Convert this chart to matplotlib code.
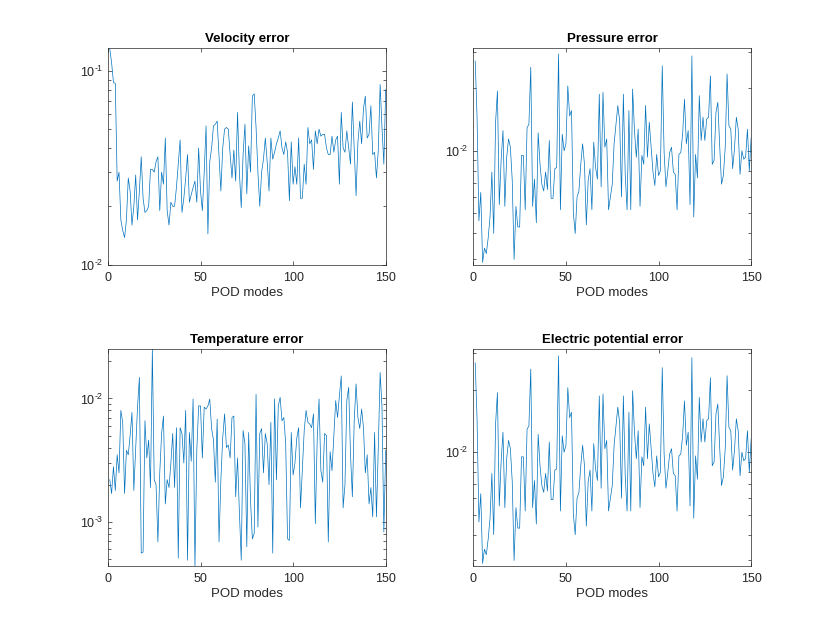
import matplotlib
matplotlib.use('Agg')
import matplotlib.pyplot as plt
from matplotlib.ticker import LogLocator, NullFormatter, FixedLocator, FuncFormatter
import math

# POD modes 1..150
modes = list(range(1, 151))

velocity_err = [
    0.13, 0.11, 0.087, 0.086, 0.027, 0.030, 0.017, 0.015, 0.0138, 0.017,
    0.028, 0.024, 0.016, 0.020, 0.029, 0.017, 0.024, 0.036, 0.022, 0.0186,
    0.019, 0.020, 0.031, 0.031, 0.030, 0.034, 0.036, 0.019, 0.030, 0.026,
    0.045, 0.019, 0.016, 0.021, 0.020, 0.020, 0.025, 0.033, 0.044, 0.0186,
    0.022, 0.028, 0.037, 0.021, 0.023, 0.025, 0.027, 0.021, 0.040, 0.024,
    0.019, 0.030, 0.052, 0.0144, 0.034, 0.040, 0.052, 0.053, 0.055, 0.036,
    0.024, 0.040, 0.050, 0.051, 0.050, 0.037, 0.028, 0.039, 0.027, 0.061,
    0.030, 0.0197, 0.037, 0.053, 0.0232, 0.041, 0.030, 0.074, 0.076, 0.051,
    0.030, 0.020, 0.030, 0.035, 0.045, 0.034, 0.024, 0.045, 0.035, 0.038,
    0.042, 0.045, 0.049, 0.040, 0.037, 0.043, 0.038, 0.0214, 0.043, 0.026,
    0.032, 0.026, 0.045, 0.022, 0.022, 0.033, 0.026, 0.051, 0.042, 0.044,
    0.031, 0.049, 0.042, 0.050, 0.046, 0.047, 0.047, 0.040, 0.037, 0.037,
    0.046, 0.038, 0.044, 0.046, 0.026, 0.061, 0.040, 0.038, 0.049, 0.040,
    0.033, 0.069, 0.040, 0.0227, 0.043, 0.055, 0.042, 0.064, 0.074, 0.045,
    0.047, 0.066, 0.037, 0.038, 0.028, 0.039, 0.085, 0.051, 0.033, 0.080,
]

pressure_err = [
    0.027, 0.0145, 0.0046, 0.0063, 0.0029, 0.0034, 0.0032, 0.0038, 0.0048, 0.0079,
    0.0040, 0.0137, 0.0194, 0.0055, 0.0090, 0.0125, 0.0054, 0.0093, 0.0114, 0.0104,
    0.0072, 0.0030, 0.0054, 0.0043, 0.0043, 0.0095, 0.0095, 0.0052, 0.0129, 0.0134,
    0.0252, 0.0054, 0.0073, 0.0045, 0.0122, 0.0086, 0.0069, 0.0064, 0.0079, 0.0065,
    0.0112, 0.0059, 0.0059, 0.0082, 0.0083, 0.0292, 0.0052, 0.0120, 0.0100, 0.0108,
    0.0205, 0.0147, 0.0156, 0.0050, 0.0040, 0.0060, 0.0064, 0.0086, 0.0108, 0.0086,
    0.0044, 0.0072, 0.0082, 0.0052, 0.0110, 0.0083, 0.0073, 0.0187, 0.0067, 0.0191,
    0.0104, 0.0114, 0.0052, 0.0060, 0.0069, 0.0108, 0.0134, 0.0165, 0.0139, 0.0060,
    0.0187, 0.0077, 0.0052, 0.0156, 0.0052, 0.0198, 0.0125, 0.0093, 0.0127, 0.0054,
    0.0095, 0.0086, 0.0165, 0.0093, 0.0137, 0.0104, 0.0079, 0.0068, 0.0096, 0.0076,
    0.0080, 0.0256, 0.0098, 0.0067, 0.0080, 0.0098, 0.0104, 0.0079, 0.0077, 0.0052,
    0.0096, 0.0098, 0.0120, 0.0177, 0.0108, 0.0125, 0.0055, 0.0286, 0.0048, 0.0096,
    0.0074, 0.0184, 0.0112, 0.0145, 0.0112, 0.0142, 0.0145, 0.0229, 0.0086, 0.0090,
    0.0153, 0.0171, 0.0106, 0.0069, 0.0076, 0.0104, 0.0234, 0.0132, 0.0127, 0.0082,
    0.0102, 0.0145, 0.0127, 0.0077, 0.0100, 0.0091, 0.0093, 0.0127, 0.0080, 0.0116,
]

temperature_err = [
    0.0022, 0.0017, 0.0028, 0.0018, 0.0035, 0.0025, 0.0080, 0.0064, 0.0017, 0.0038,
    0.0035, 0.0050, 0.0077, 0.0018, 0.0039, 0.0085, 0.0148, 0.00056, 0.00057, 0.0066,
    0.0033, 0.0046, 0.0019, 0.0250, 0.0022, 0.0020, 0.00069, 0.0025, 0.0052, 0.0072,
    0.0014, 0.0022, 0.0019, 0.0030, 0.0052, 0.0019, 0.0058, 0.00051, 0.0058, 0.0052,
    0.0030, 0.0080, 0.00049, 0.0053, 0.0031, 0.0099, 0.00043, 0.0038, 0.0087, 0.0087,
    0.0033, 0.0085, 0.0082, 0.0087, 0.0099, 0.0057, 0.0046, 0.0021, 0.0068, 0.00069,
    0.0022, 0.0048, 0.0075, 0.0040, 0.0042, 0.0033, 0.0070, 0.0072, 0.0016, 0.0033,
    0.0012, 0.00049, 0.0055, 0.0043, 0.00063, 0.0053, 0.0015, 0.00073, 0.00081, 0.0108,
    0.00091, 0.0052, 0.0057, 0.0025, 0.0052, 0.0043, 0.0020, 0.0064, 0.00056, 0.0099,
    0.0022, 0.0087, 0.0102, 0.0066, 0.0070, 0.0043, 0.00073, 0.00071, 0.0053, 0.0024,
    0.0030, 0.0048, 0.0058, 0.0013, 0.0027, 0.0055, 0.0080, 0.0064, 0.0062, 0.0058,
    0.0075, 0.00097, 0.0046, 0.0099, 0.0026, 0.0021, 0.0052, 0.0050, 0.00069, 0.0037,
    0.0026, 0.0050, 0.0096, 0.0070, 0.0105, 0.0152, 0.0013, 0.0020, 0.0096, 0.0123,
    0.0035, 0.0016, 0.0066, 0.0131, 0.0070, 0.0057, 0.0082, 0.0058, 0.0025, 0.0035,
    0.0014, 0.0019, 0.0011, 0.0053, 0.0011, 0.0040, 0.0162, 0.0085, 0.00083, 0.0038,
]

# the electric potential curve looks identical to the pressure one
electric_err = list(pressure_err)

titles = ['Velocity error', 'Pressure error', 'Temperature error', 'Electric potential error']
ylims = [(0.01, 0.1315), (0.00283, 0.0313), (0.00044, 0.0251), (0.00282, 0.0315)]
series = [velocity_err, pressure_err, temperature_err, electric_err]

plt.rcParams['font.family'] = ['Liberation Sans', 'DejaVu Sans']
plt.rcParams['mathtext.fontset'] = 'custom'
plt.rcParams['mathtext.rm'] = 'Liberation Sans'
plt.rcParams['mathtext.it'] = 'Liberation Sans'


def pow10(v, pos):
    # MATLAB writes the exponent with a plain hyphen
    e = int(round(math.log10(v)))
    sign = '\u2010' if e < 0 else ''
    return r'$10^{\mathrm{%s%d}}$' % (sign, abs(e))


fig = plt.figure(figsize=(8.3, 6.36), dpi=100)
# MATLAB default subplot positions
positions = [
    [0.13, 0.5838, 0.3347, 0.3412],
    [0.5703, 0.5838, 0.3347, 0.3412],
    [0.13, 0.11, 0.3347, 0.3412],
    [0.5703, 0.11, 0.3347, 0.3412],
]
axcol = '#262626'

for pos, y, title, yl in zip(positions, series, titles, ylims):
    ax = fig.add_axes(pos)
    ax.plot(modes, y, color='#0072BD', linewidth=0.5)
    ax.set_yscale('log')
    ax.set_xlim(0, 150)
    ax.set_ylim(*yl)
    ax.xaxis.set_major_locator(FixedLocator([0, 50, 100, 150]))
    ax.yaxis.set_major_locator(LogLocator(base=10))
    ax.yaxis.set_major_formatter(FuncFormatter(pow10))
    ax.yaxis.set_minor_locator(LogLocator(base=10, subs=range(2, 10)))
    ax.yaxis.set_minor_formatter(NullFormatter())
    ax.tick_params(which='both', direction='in', top=True, right=True,
                   colors=axcol, labelsize=9, width=0.5)
    ax.tick_params(which='major', length=3)
    ax.tick_params(which='minor', length=2)
    ax.tick_params(axis='x', pad=5)
    for s in ax.spines.values():
        s.set_color(axcol)
        s.set_linewidth(0.5)
    ax.set_title(title, fontsize=9.5, fontweight='bold', color='black', pad=4)
    ax.set_xlabel('POD modes', fontsize=9.5, color=axcol, labelpad=2.5)

fig.savefig('out.png', dpi=100)
